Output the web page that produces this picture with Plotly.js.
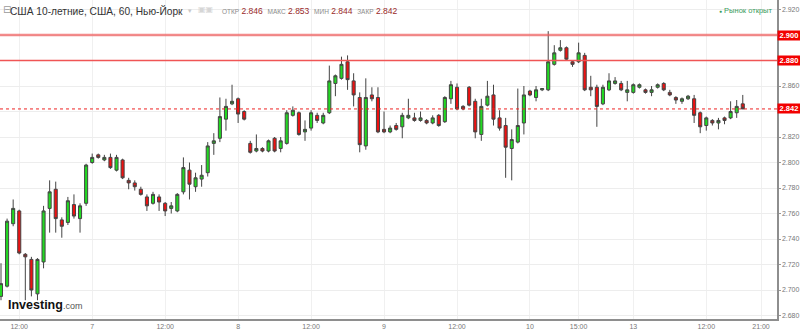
<!DOCTYPE html>
<html>
<head>
<meta charset="utf-8">
<script src="https://cdn.plot.ly/plotly-3.0.1.min.js"></script>
<style>
  html, body { margin: 0; padding: 0; background: #fff; }
  #chart { width: 800px; height: 329px; }
</style>
</head>
<body>
<div id="chart"></div>
<script>
// ---- Data (hourly candles, US 10Y) ----
const opens = [2.695,2.703,2.752,2.762,2.728,2.724,2.697,2.722,2.764,2.779,2.755,2.753,2.767,2.756,2.768,2.800,2.806,2.802,2.804,2.794,
2.802,2.786,2.784,2.779,2.773,2.768,2.773,2.768,2.764,2.762,2.777,2.794,2.781,2.787,2.792,2.815,2.819,2.834,2.846,2.850,
2.840,2.815,2.809,2.811,2.809,2.819,2.811,2.815,2.837,2.839,2.824,2.827,2.837,2.831,2.839,2.862,2.866,2.879,2.864,2.851,
2.813,2.853,2.851,2.826,2.824,2.829,2.828,2.835,2.835,2.833,2.833,2.831,2.837,2.832,2.850,2.859,2.844,2.859,2.848,2.822,
2.845,2.853,2.835,2.829,2.811,2.816,2.831,2.856,2.851,2.857,2.857,2.877,2.888,2.890,2.879,2.879,2.884,2.859,2.859,2.846,
2.857,2.862,2.862,2.855,2.855,2.859,2.857,2.855,2.859,2.862,2.855,2.851,2.848,2.850,2.850,2.839,2.829,2.833,2.831,2.835,
2.835,2.839,2.846];
const highs = [2.721,2.756,2.771,2.763,2.729,2.726,2.725,2.766,2.786,2.785,2.757,2.773,2.775,2.768,2.799,2.807,2.807,2.806,2.807,2.806,
2.803,2.788,2.786,2.781,2.775,2.777,2.775,2.769,2.769,2.776,2.804,2.800,2.792,2.798,2.816,2.823,2.851,2.850,2.861,2.851,
2.841,2.817,2.822,2.812,2.818,2.820,2.820,2.841,2.844,2.840,2.833,2.841,2.839,2.839,2.876,2.869,2.883,2.884,2.870,2.855,
2.866,2.859,2.859,2.840,2.829,2.831,2.839,2.850,2.839,2.840,2.834,2.837,2.838,2.852,2.864,2.862,2.845,2.860,2.850,2.850,
2.864,2.861,2.841,2.835,2.826,2.858,2.860,2.857,2.860,2.858,2.903,2.892,2.896,2.891,2.880,2.894,2.886,2.868,2.861,2.861,
2.870,2.867,2.864,2.864,2.862,2.862,2.858,2.860,2.862,2.863,2.857,2.852,2.851,2.853,2.853,2.840,2.836,2.834,2.835,2.836,
2.848,2.849,2.853];
const lows = [2.692,2.702,2.750,2.728,2.692,2.695,2.692,2.717,2.745,2.745,2.741,2.751,2.756,2.745,2.766,2.799,2.803,2.801,2.795,2.793,
2.787,2.779,2.778,2.774,2.762,2.767,2.762,2.758,2.760,2.761,2.775,2.771,2.777,2.781,2.789,2.806,2.816,2.825,2.845,2.831,
2.833,2.807,2.808,2.808,2.808,2.808,2.808,2.814,2.836,2.821,2.817,2.825,2.831,2.830,2.838,2.852,2.865,2.857,2.844,2.808,
2.810,2.848,2.823,2.823,2.823,2.825,2.819,2.834,2.832,2.832,2.830,2.830,2.828,2.831,2.846,2.841,2.841,2.844,2.819,2.817,
2.844,2.829,2.825,2.788,2.786,2.815,2.822,2.852,2.848,2.856,2.856,2.876,2.887,2.880,2.875,2.878,2.856,2.852,2.828,2.845,
2.856,2.861,2.856,2.848,2.854,2.858,2.854,2.852,2.858,2.856,2.852,2.846,2.846,2.849,2.831,2.823,2.825,2.829,2.826,2.830,
2.834,2.835,2.844];
const closes = [2.705,2.754,2.764,2.729,2.726,2.700,2.724,2.762,2.777,2.756,2.750,2.770,2.758,2.766,2.798,2.804,2.804,2.804,2.796,2.804,
2.788,2.784,2.781,2.775,2.766,2.775,2.769,2.762,2.766,2.775,2.796,2.783,2.788,2.790,2.813,2.817,2.836,2.844,2.848,2.838,
2.834,2.808,2.811,2.809,2.817,2.809,2.817,2.839,2.841,2.822,2.826,2.839,2.833,2.837,2.864,2.868,2.877,2.865,2.853,2.814,
2.851,2.850,2.824,2.824,2.827,2.826,2.837,2.837,2.833,2.835,2.831,2.835,2.829,2.851,2.861,2.842,2.842,2.845,2.824,2.844,
2.852,2.834,2.827,2.812,2.818,2.829,2.853,2.853,2.857,2.858,2.879,2.886,2.890,2.881,2.877,2.886,2.857,2.857,2.844,2.859,
2.864,2.864,2.857,2.857,2.861,2.861,2.855,2.857,2.861,2.857,2.853,2.849,2.850,2.852,2.837,2.828,2.835,2.831,2.833,2.833,
2.840,2.844,2.842];

// tick labels on the time axis (candle index where each label sits)
const tickIdx = [3, 15, 27, 39, 51, 63, 75, 87, 95, 104, 116, 125];
const tickLabels = ["12:00","7","12:00","8","12:00","9","12:00","10","15:00","13","12:00","21:00"];

// price axis ticks
const priceTicks = [2.680,2.700,2.720,2.740,2.760,2.780,2.800,2.820,2.840,2.860,2.880,2.900,2.920];

// horizontal price levels (marked with red labels on the price axis)
const levels = [2.900, 2.880, 2.842];

const titleText = "США 10-летние, США, 60, Нью-Йорк";
const statusText = "Рынок открыт";

// ---- Build ----
const xs = opens.map((_, i) => i);
const n = opens.length;
const FONT = 'Arial, Liberation Sans, sans-serif';

const trace = {
  type: 'candlestick',
  x: xs, open: opens, high: highs, low: lows, close: closes,
  increasing: { line: { color: '#444', width: 1 }, fillcolor: '#22d922' },
  decreasing: { line: { color: '#444', width: 1 }, fillcolor: '#ee1111' },
  whiskerwidth: 0,
  hoverinfo: 'skip',
  showlegend: false
};

const PW = 777, PH = 319;
const px = v => v / PW;
const py = v => 1 - v / PH;

const levelStyles = [
  { color: 'rgba(240,90,90,0.7)', width: 2.5, dash: 'solid' },
  { color: '#f05555', width: 1.5, dash: 'solid' },
  { color: '#ee2222', width: 1, dash: 'dot' }
];

const shapes = levels.map((lv, k) => ({
  type: 'line', xref: 'paper', x0: 0, x1: 1, yref: 'y', y0: lv, y1: lv,
  line: levelStyles[k], layer: 'above'
}));

// price tick labels hidden where a level label box sits on top of them
const priceTickText = priceTicks.map(v => levels.some(lv => Math.abs(lv - v) < 0.005) ? '' : v.toFixed(3));

const lab = (t) => `<span style="font-size:6.5px;color:#8c8c8c">${t}</span> `;
const o = opens[n-1].toFixed(3), h = highs[n-1].toFixed(3), l = lows[n-1].toFixed(3), c = closes[n-1].toFixed(3);
const ohlcText = `${lab('ОТКР')}${o}  ${lab('МАКС')}${h}  ${lab('МИН')}${l}  ${lab('ЗАКР')}${c}`;

const annotations = [
  ...levels.map(lv => ({
    xref: 'paper', x: 1, xanchor: 'left', xshift: 0,
    yref: 'y', y: lv, yanchor: 'middle',
    text: '<b>' + lv.toFixed(3) + '</b>', showarrow: false,
    bgcolor: '#f20000', font: { color: '#fff', size: 7.5, family: FONT },
    width: 22, height: 9, borderpad: 0, align: 'center'
  })),
  { xref: 'paper', yref: 'paper', x: px(1), y: py(10), xanchor: 'left', yanchor: 'middle',
    text: '⊟', showarrow: false, font: { size: 10, color: '#9a9a9a', family: 'DejaVu Sans' } },
  { xref: 'paper', yref: 'paper', x: px(7.5), y: py(10.5), xanchor: 'left', yanchor: 'middle',
    text: titleText, showarrow: false, font: { size: 10.2, color: '#333', family: FONT } },
  { xref: 'paper', yref: 'paper', x: px(186), y: py(10.5), xanchor: 'left', yanchor: 'middle',
    text: '▾', showarrow: false, font: { size: 7, color: '#c8c8c8', family: 'DejaVu Sans' } },
  { xref: 'paper', yref: 'paper', x: px(196), y: py(10), xanchor: 'left', yanchor: 'middle',
    text: '▣▣', showarrow: false, font: { size: 8, color: '#d6d6d6', family: 'DejaVu Sans' } },
  { xref: 'paper', yref: 'paper', x: px(220), y: py(10.5), xanchor: 'left', yanchor: 'middle',
    text: ohlcText, showarrow: false, font: { size: 8.5, color: '#9a2a2a', family: FONT } },
  { xref: 'paper', yref: 'paper', x: px(774), y: py(10.5), xanchor: 'right', yanchor: 'middle',
    text: '<span style="font-size:5px">●</span> ' + statusText, showarrow: false,
    font: { size: 7.5, color: '#3a9d5d', family: FONT } },
  { xref: 'paper', yref: 'paper', x: px(6), y: py(304.5), xanchor: 'left', yanchor: 'middle',
    text: '<b>Investing</b><span style="font-size:9px;color:#555">.com</span>', showarrow: false,
    font: { size: 12.5, color: '#111', family: FONT } }
];

// axis ranges from pixel geometry: candle i center = 1 + 6.08*i px; price 2.920 at 9.5px, 1275 px per unit
const layout = {
  width: 800, height: 329,
  margin: { l: 0, r: 23, t: 0, b: 10, pad: 0 },
  paper_bgcolor: '#fff', plot_bgcolor: '#fff',
  showlegend: false,
  boxgap: 0.28,
  xaxis: {
    range: [-0.164, 127.63],
    rangeslider: { visible: false },
    tickmode: 'array', tickvals: tickIdx, ticktext: tickLabels,
    showgrid: true, gridcolor: '#f0f0f0', gridwidth: 1,
    zeroline: false,
    showline: true, linecolor: '#8e8e8e', linewidth: 1.5,
    ticks: '', tickfont: { size: 7, color: '#777', family: FONT },
    ticklabelstandoff: 0,
    fixedrange: true
  },
  yaxis: {
    side: 'right',
    range: [2.67726, 2.92745],
    tickmode: 'array', tickvals: priceTicks, ticktext: priceTickText,
    showgrid: true, gridcolor: '#ededed', gridwidth: 1,
    zeroline: false,
    showline: true, linecolor: '#8e8e8e', linewidth: 1.5,
    ticks: 'outside', ticklen: 2, tickcolor: '#999', tickwidth: 1,
    tickfont: { size: 7, color: '#777', family: FONT },
    fixedrange: true
  },
  shapes: shapes,
  annotations: annotations
};

Plotly.newPlot('chart', [trace], layout, { displayModeBar: false, staticPlot: true });
</script>
</body>
</html>
